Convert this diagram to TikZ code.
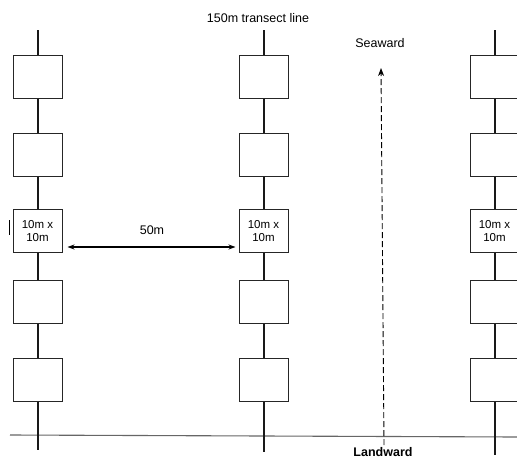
\documentclass[tikz,border=0pt]{standalone}
\usepackage{fontspec}
\setmainfont{Liberation Sans}
\usetikzlibrary{arrows.meta}
\begin{document}
\begin{tikzpicture}[x=1pt,y=-1pt,
  plot/.style={draw=black!85,line width=1pt,minimum width=49pt,minimum height=43pt,inner sep=0pt,align=center,font=\fontsize{11.5}{13}\selectfont,fill=white},
  transect/.style={line width=2pt,black!90},
  lbl/.style={font=\fontsize{12.5}{14}\selectfont,inner sep=0pt}]
\useasboundingbox (0,0) rectangle (517,461);
\clip (0,0) rectangle (517,461);
\fill[white] (0,0) rectangle (517,461);
% baseline (shore line)
\coordinate (hl) at (10,435);
\coordinate (hr) at (517,437);
\draw[line width=1.1pt,black!60] (hl) -- (hr);
% columns
\foreach \c/\x/\b in {L/37.5/450, M/263.5/452, R/494.5/455}{
  \coordinate (\c top) at (\x,30);
  \coordinate (\c bot) at (\x,\b);
  \node[plot] (\c1) at (\x,76.5) {};
  \node[plot] (\c2) at (\x,154.5) {};
  \node[plot] (\c3) at (\x,231) {10m x\\10m};
  \node[plot] (\c4) at (\x,302) {};
  \node[plot] (\c5) at (\x,379.5) {};
  \draw[transect] (\c top) -- (\c1.north);
  \draw[transect] (\c1.south) -- (\c2.north);
  \draw[transect] (\c2.south) -- (\c3.north);
  \draw[transect] (\c3.south) -- (\c4.north);
  \draw[transect] (\c4.south) -- (\c5.north);
  \draw[transect] (\c5.south) -- (\c bot);
}
% small tick left of left box
\coordinate (t1) at (9,220);
\coordinate (t2) at (9,235);
\draw[line width=0.9pt] (t1) -- (t2);
% 50m arrow
\coordinate (a1) at ([xshift=5pt]L3.south east |- 0,247);
\coordinate (a2) at ([xshift=-3pt]M3.south west |- 0,247);
\draw[line width=1.5pt,{Stealth[length=7pt,width=5pt]}-{Stealth[length=7pt,width=5pt]}] (a1) -- (a2);
\node[lbl] (d50) at (152,230) {50m};
% labels
\node[lbl] (title) at (258,18) {150m transect line};
\node[lbl] (sea) at (380,43) {Seaward};
\node[lbl,font=\fontsize{12.5}{14}\selectfont\bfseries] (land) at (383,452) {Landward};
% dashed arrow
\coordinate (s1) at (384,445);
\coordinate (s2) at (381,68);
\draw[line width=0.9pt,dash pattern=on 6pt off 3pt,-{Stealth[length=8pt,width=6pt]}] (s1) -- (s2);
\end{tikzpicture}
\end{document}
